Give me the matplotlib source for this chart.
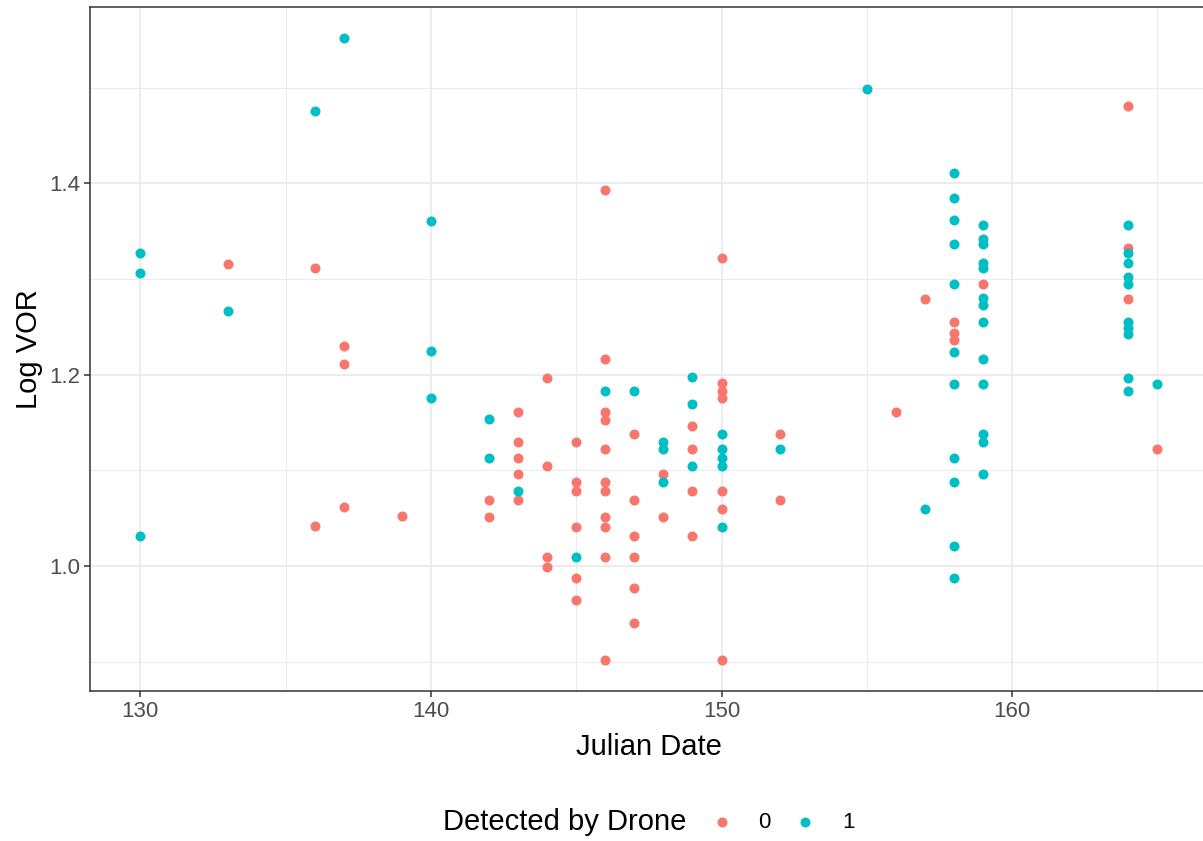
import matplotlib
matplotlib.use("Agg")
import matplotlib.pyplot as plt
from matplotlib.lines import Line2D
from matplotlib.ticker import MultipleLocator

plt.rcParams["font.family"] = ["Liberation Sans", "DejaVu Sans"]

RED = "#F8766D"
TEAL = "#00BFC4"

# not detected (0)
date_0 = [133, 136, 136, 137, 137, 137, 139, 142, 142,
          143, 143, 143, 143, 143, 144, 144, 144, 144,
          145, 145, 145, 145, 145, 145,
          146, 146, 146, 146, 146, 146, 146, 146, 146, 146, 146,
          147, 147, 147, 147, 147, 147, 148, 148, 149, 149, 149, 149,
          150, 150, 150, 150, 150, 150, 150, 152, 152, 156, 157,
          158, 158, 158, 159, 164, 164, 164, 165]
vor_0 = [1.316, 1.312, 1.042, 1.230, 1.211, 1.062, 1.052, 1.069, 1.051,
         1.161, 1.130, 1.113, 1.096, 1.069, 1.197, 1.105, 1.010, 0.999,
         1.130, 1.088, 1.079, 1.041, 0.988, 0.965,
         1.393, 1.217, 1.161, 1.153, 1.122, 1.088, 1.079, 1.051, 1.041, 1.010, 0.902,
         1.138, 1.069, 1.031, 1.010, 0.977, 0.941, 1.096, 1.051, 1.146, 1.122, 1.079, 1.031,
         1.322, 1.191, 1.183, 1.176, 1.079, 1.060, 0.902, 1.138, 1.069, 1.161, 1.279,
         1.255, 1.244, 1.236, 1.295, 1.481, 1.333, 1.279, 1.122]

# detected (1)
date_1 = [130, 130, 130, 133, 136, 137, 140, 140, 140, 142, 142, 143, 145, 146, 147,
          148, 148, 148, 149, 149, 149, 150, 150, 150, 150, 150, 152, 155, 157,
          158, 158, 158, 158, 158, 158, 158, 158, 158, 158, 158,
          159, 159, 159, 159, 159, 159, 159, 159, 159, 159, 159, 159, 159,
          164, 164, 164, 164, 164, 164, 164, 164, 164, 164, 165]
vor_1 = [1.327, 1.306, 1.032, 1.267, 1.476, 1.552, 1.361, 1.225, 1.176, 1.154, 1.113, 1.079, 1.010, 1.183, 1.183,
         1.130, 1.122, 1.088, 1.198, 1.169, 1.105, 1.138, 1.122, 1.113, 1.105, 1.041, 1.122, 1.499, 1.060,
         1.411, 1.385, 1.362, 1.337, 1.295, 1.224, 1.190, 1.113, 1.088, 1.021, 0.988,
         1.357, 1.342, 1.337, 1.317, 1.312, 1.280, 1.273, 1.255, 1.217, 1.190, 1.138, 1.130, 1.096,
         1.357, 1.327, 1.317, 1.302, 1.295, 1.255, 1.249, 1.243, 1.197, 1.183, 1.190]

legend_labels = ["0", "1"]

fig = plt.figure(figsize=(12.03, 8.41), dpi=100)
ax = fig.add_axes([0.0744, 0.1784, 0.930, 0.8133])

ax.scatter(date_0, vor_0, s=52, color=RED, linewidths=0, zorder=3)
ax.scatter(date_1, vor_1, s=52, color=TEAL, linewidths=0, zorder=3)

ax.set_xlim(128.25, 166.75)
ax.set_ylim(0.8695, 1.5845)
ax.xaxis.set_major_locator(MultipleLocator(10))
ax.xaxis.set_minor_locator(MultipleLocator(5))
ax.yaxis.set_major_locator(MultipleLocator(0.2))
ax.yaxis.set_minor_locator(MultipleLocator(0.1))
ax.yaxis.set_major_formatter(matplotlib.ticker.FormatStrFormatter("%.1f"))

ax.grid(which="major", color="#EBEBEB", linewidth=1.3, zorder=0)
ax.grid(which="minor", color="#EBEBEB", linewidth=0.7, zorder=0)
ax.set_axisbelow(True)
ax.tick_params(which="minor", length=0)
ax.tick_params(which="major", length=4, width=1.1, color="#333333",
               labelsize=16, labelcolor="#4D4D4D", pad=3)
for sp in ax.spines.values():
    sp.set_color("#333333")
    sp.set_linewidth(1.1)

ax.set_xlabel("Julian Date", fontsize=21, labelpad=8)
ax.set_ylabel("Log VOR", fontsize=21, labelpad=4)

# legend at the bottom, title to the left of the keys
ly = 1 - 822 / 841
fig.text(443 / 1203, ly, "Detected by Drone", fontsize=21, ha="left", va="center")
for x_pt, x_lab, col, lab in [(722, 764, RED, legend_labels[0]), (805, 848, TEAL, legend_labels[1])]:
    fig.add_artist(Line2D([x_pt / 1203], [ly], transform=fig.transFigure, marker="o",
                          markersize=7.2, color=col, markeredgewidth=0))
    fig.text(x_lab / 1203, ly, lab, fontsize=16, ha="center", va="center")

fig.savefig("out.png", dpi=100)
